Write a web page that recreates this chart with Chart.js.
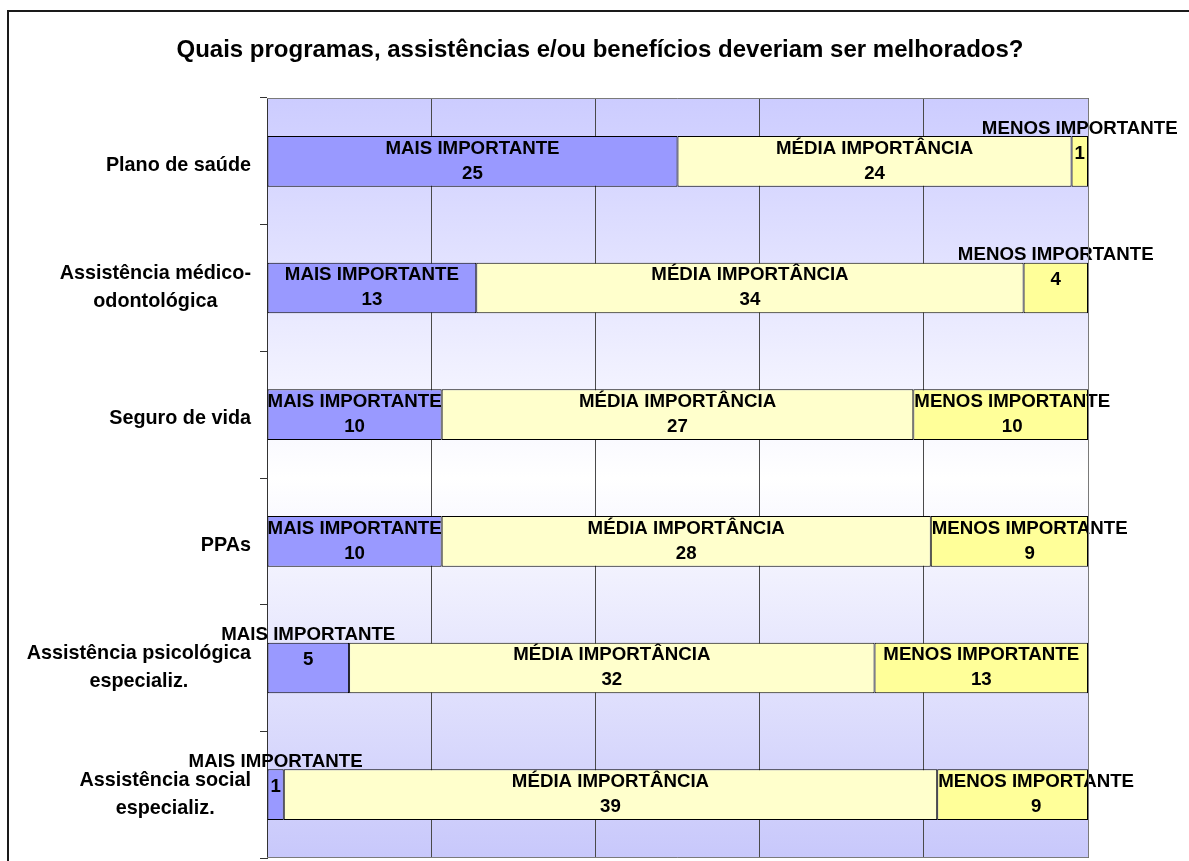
<!DOCTYPE html>
<html>
<head>
<meta charset="utf-8">
<script src="https://cdn.jsdelivr.net/npm/chart.js@4/dist/chart.umd.min.js"></script>
<style>
  html, body { margin: 0; padding: 0; background: #ffffff; }
  #wrap { position: relative; width: 1189px; height: 861px; }
</style>
</head>
<body>
<div id="wrap"><canvas id="c"></canvas></div>
<script>
const titleText = "Quais programas, assistências e/ou benefícios deveriam ser melhorados?";
const categories = [
  ["Plano de saúde"],
  ["Assistência médico-", "odontológica"],
  ["Seguro de vida"],
  ["PPAs"],
  ["Assistência psicológica", "especializ."],
  ["Assistência social", "especializ."]
];
const seriesNames = ["MAIS IMPORTANTE", "MÉDIA IMPORTÂNCIA", "MENOS IMPORTANTE"];
const maisImportante  = [25, 13, 10, 10, 5, 1];
const mediaImportancia = [24, 34, 27, 28, 32, 39];
const menosImportante = [1, 4, 10, 9, 13, 9];
const xTicks = [0, 20, 40, 60, 80, 100];

const seriesValues = [maisImportante, mediaImportancia, menosImportante];
const seriesColors = ["#9999ff", "#ffffcc", "#ffff99"];
const totals = categories.map((_, i) => seriesValues.reduce((s, arr) => s + arr[i], 0));

const FONT = "'Liberation Sans', Arial, sans-serif";

const bgPlugin = {
  id: 'bg',
  beforeDraw(chart) {
    const { ctx, chartArea: a } = chart;
    const g = ctx.createLinearGradient(0, a.top, 0, a.bottom);
    g.addColorStop(0, '#ccccff');
    g.addColorStop(0.5, '#ffffff');
    g.addColorStop(1, '#c8c8fb');
    ctx.save();
    ctx.fillStyle = g;
    ctx.fillRect(a.left, a.top, a.right - a.left, a.bottom - a.top);
    ctx.restore();
  }
};

const labelPlugin = {
  id: 'labels',
  afterDatasetsDraw(chart) {
    const { ctx } = chart;
    ctx.save();
    ctx.font = "bold 18.7px " + FONT;
    ctx.fillStyle = '#000';
    ctx.textBaseline = 'middle';
    ctx.textAlign = 'center';
    chart.data.datasets.forEach((ds, di) => {
      const meta = chart.getDatasetMeta(di);
      meta.data.forEach((el, i) => {
        const left = Math.min(el.x, el.base);
        const right = Math.max(el.x, el.base);
        const w = right - left;
        const top = el.y - el.height / 2;
        const name = seriesNames[di];
        const val = String(seriesValues[di][i]);
        const tw = ctx.measureText(name).width;
        let cx = (left + right) / 2;
        let y1 = top + 12.5, y2 = top + 37.5;
        if (w < 100) {
          y1 = top - 7.5; y2 = top + 17.5;
        } else if (tw > w + 2) {
          cx = left + 1 + tw / 2;
        }
        ctx.fillText(name, cx, y1);
        ctx.fillText(val, cx, y2);
      });
    });
    ctx.restore();
  }
};

const framePlugin = {
  id: 'frame',
  afterDraw(chart) {
    const { ctx, chartArea: a, scales } = chart;
    ctx.save();
    // plot border (top, right, bottom)
    ctx.strokeStyle = '#7a7a7a';
    ctx.lineWidth = 1;
    ctx.beginPath();
    ctx.moveTo(a.left, a.top + 0.5); ctx.lineTo(a.right + 0.5, a.top + 0.5);
    ctx.lineTo(a.right + 0.5, a.bottom - 0.5); ctx.lineTo(a.left, a.bottom - 0.5);
    ctx.stroke();
    // outer frame
    ctx.strokeStyle = '#1a1a1a';
    ctx.lineWidth = 2;
    ctx.beginPath();
    ctx.moveTo(8, 861); ctx.lineTo(8, 11); ctx.lineTo(1189, 11);
    ctx.stroke();
    // title
    ctx.fillStyle = '#000';
    ctx.font = "bold 24px " + FONT;
    ctx.textAlign = 'center';
    ctx.textBaseline = 'middle';
    ctx.fillText(titleText, 600, 50);
    // category labels
    ctx.font = "bold 19.8px " + FONT;
    const yScale = scales.y;
    const rightEdge = 251;
    categories.forEach((lines, i) => {
      const cy = yScale.getPixelForValue(i);
      const bw = Math.max(...lines.map(l => ctx.measureText(l).width));
      const cx = rightEdge - bw / 2;
      const lh = 28;
      const start = cy - (lines.length - 1) * lh / 2 + (lines.length === 1 ? 4 : 0);
      lines.forEach((l, k) => ctx.fillText(l, cx, start + k * lh));
    });
    ctx.restore();
  }
};

new Chart(document.getElementById('c'), {
  type: 'bar',
  data: {
    labels: categories.map(l => l.join(' ')),
    datasets: seriesValues.map((arr, di) => ({
      label: seriesNames[di],
      data: arr.map((v, i) => v / totals[i] * 100),
      backgroundColor: seriesColors[di],
      borderColor: '#000000',
      borderWidth: 1,
      borderSkipped: false,
      barPercentage: 0.4,
      categoryPercentage: 1.0
    }))
  },
  options: {
    indexAxis: 'y',
    responsive: true,
    maintainAspectRatio: false,
    animation: false,
    layout: { padding: { left: 0, top: 98, right: 101, bottom: 3 } },
    plugins: {
      legend: { display: false },
      title: { display: false },
      tooltip: { enabled: false }
    },
    scales: {
      x: {
        stacked: true,
        min: 0, max: 100,
        afterBuildTicks(scale) { scale.ticks = xTicks.map(v => ({ value: v })); },
        afterFit(scale) { scale.height = 0; },
        ticks: { display: false },
        grid: { color: '#4a4a4a', lineWidth: 1, drawTicks: false },
        border: { display: false }
      },
      y: {
        stacked: true,
        afterFit(scale) { scale.width = 267; },
        ticks: { display: false },
        grid: { offset: true, drawOnChartArea: false, drawTicks: true, tickLength: 7, color: '#333' },
        border: { display: true, color: '#333', width: 1 }
      }
    }
  },
  plugins: [bgPlugin, labelPlugin, framePlugin]
});
</script>
</body>
</html>
